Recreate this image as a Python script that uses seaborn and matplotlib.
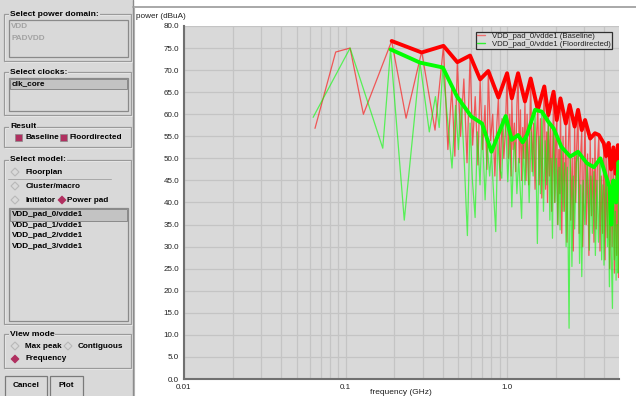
#!/usr/bin/env python
# Power spectrum viewer screenshot: control panel on the left, log-frequency plot on the right

import numpy as np
import pandas as pd
import matplotlib
matplotlib.use('Agg')
import matplotlib.pyplot as plt
import seaborn as sns
from matplotlib.patches import Rectangle, Polygon
from matplotlib.lines import Line2D
from matplotlib.ticker import MultipleLocator, LogLocator, FuncFormatter, NullFormatter

W, H = 636, 396
PANEL = '#d9d9d9'
MAROON = '#b03060'

# ---- data ----
red_thin_freq = [0.0647, 0.0869, 0.1067, 0.129, 0.193, 0.237, 0.296, 0.358, 0.404,
                 0.43, 0.455, 0.475, 0.492, 0.515, 0.54, 0.565, 0.59, 0.612, 0.635, 0.66, 0.681,
                 0.705, 0.73, 0.75, 0.765, 0.79, 0.815, 0.84, 0.865, 0.884, 0.905, 0.93, 0.955, 0.975,
                 1.00, 1.02, 1.04, 1.06, 1.07, 1.09, 1.11, 1.13, 1.15, 1.17, 1.19, 1.21, 1.23, 1.25, 1.27,
                 1.29, 1.31, 1.33, 1.36, 1.40, 1.43, 1.46, 1.49, 1.52, 1.55, 1.58, 1.61, 1.64, 1.67, 1.70,
                 1.73, 1.76, 1.78, 1.80, 1.83, 1.86, 1.89, 1.92, 1.94, 1.97, 2.00, 2.03, 2.06, 2.09, 2.12,
                 2.14, 2.18, 2.22, 2.26, 2.31, 2.35, 2.39, 2.44, 2.48, 2.53, 2.57, 2.62, 2.66, 2.70, 2.75,
                 2.79, 2.84, 2.90, 2.94, 2.99, 3.04, 3.09, 3.15, 3.21, 3.27, 3.33, 3.39, 3.45, 3.50, 3.56,
                 3.62, 3.70, 3.76, 3.83, 3.90, 3.97, 4.04, 4.10, 4.17, 4.25, 4.32, 4.40, 4.47, 4.55, 4.62,
                 4.70, 4.77, 4.85, 4.90, 4.93]
red_thin_db = [56.8, 74.1, 75.0, 60.0, 76.6, 59.1, 74.2, 56.4, 75.5,
               52.0, 66.0, 50.5, 71.8, 55.0, 68.0, 49.0, 73.3, 53.0, 64.0, 48.5, 67.9,
               52.0, 62.0, 47.5, 69.8, 54.0, 60.0, 46.0, 58.0, 63.8, 45.0, 59.0, 50.0, 56.0,
               69.3, 50, 60, 46, 63.6, 52, 58, 47, 62, 69.3, 49, 61, 45, 57, 50,
               62.9, 45, 60, 44, 68.1, 47, 58, 43, 55, 61.0, 44, 59, 41, 57, 66.3,
               43, 56, 40, 59.8, 46, 58, 38, 55, 65.1, 40, 54, 58.7, 35, 52, 42,
               63.6, 33, 55, 38, 57.9, 31, 52, 62.1, 36, 50, 29, 57.2, 40, 53, 61.0,
               33, 49, 56.4, 30, 47, 58.7, 35, 51, 28, 54.5, 37, 50, 31, 55.7, 34,
               48, 55.3, 29, 46, 33, 53.4, 27, 50.5, 32, 53.5, 25, 47.5, 30, 52.5, 24,
               46.5, 28, 53.0, 23, 50.0]

green_thin_freq = [0.063, 0.1067, 0.170, 0.190, 0.231, 0.289, 0.330, 0.360, 0.380, 0.400,
                   0.456, 0.48, 0.50, 0.52, 0.545, 0.568, 0.59, 0.61, 0.634, 0.655,
                   0.68, 0.70, 0.731, 0.755, 0.78, 0.80, 0.825, 0.851, 0.875, 0.90, 0.927, 0.95, 0.98,
                   1.01, 1.04, 1.07, 1.10, 1.12, 1.15, 1.18, 1.23, 1.26, 1.29,
                   1.33, 1.37, 1.41, 1.45, 1.49, 1.54, 1.58, 1.61, 1.64, 1.68,
                   1.72, 1.76, 1.80, 1.84, 1.87, 1.91, 1.94, 1.98, 2.02, 2.06,
                   2.10, 2.13, 2.17, 2.22, 2.27, 2.32, 2.36, 2.42, 2.46, 2.52,
                   2.57, 2.62, 2.68, 2.75, 2.81, 2.86, 2.90, 2.96, 3.03, 3.12,
                   3.18, 3.23, 3.30, 3.37, 3.45, 3.52, 3.60, 3.68, 3.78, 3.85,
                   3.92, 3.98, 4.05, 4.10, 4.18, 4.24, 4.30, 4.35, 4.42, 4.49,
                   4.55, 4.62, 4.68, 4.73, 4.80, 4.86, 4.90, 4.93]
green_thin_db = [59.3, 75.0, 52.3, 74.7, 36.0, 71.7, 56.0, 64.0, 57.0, 70.6,
                 47.8, 62.0, 52.0, 63.5, 48.0, 32.5, 58.0, 45.0, 36.6, 56.0,
                 44.0, 57.9, 40.6, 53.0, 46.0, 51.5, 42.0, 33.4, 54.0, 48.0, 45.5, 57.0, 59.6,
                 44.7, 55, 39.0, 52, 53.6, 42, 50, 36.4, 53, 44,
                 55.4, 40, 56, 46, 61.0, 30.7, 55, 42, 60.6, 38,
                 54, 44, 58.3, 36, 50, 31.9, 56.8, 40, 50, 35,
                 48, 33.8, 52.6, 38, 49, 30, 48, 11.5, 50.4, 25.5,
                 46, 34, 49, 51.5, 26.2, 44, 23.2, 45, 35, 48.9,
                 44, 29.2, 46, 33, 47, 28, 45, 31, 50.0, 27,
                 44, 25.8, 42, 45.9, 30, 40, 20.9, 43.6, 28, 16.0,
                 45, 27, 38, 22.4, 35, 24, 49.2, 40]

red_env_freq = [0.193, 0.296, 0.404, 0.492, 0.590, 0.681, 0.765, 0.884, 1.00, 1.07,
                1.17, 1.29, 1.40, 1.55, 1.70, 1.80, 1.94, 2.03, 2.14, 2.31,
                2.44, 2.62, 2.75, 2.90, 3.04, 3.27, 3.50, 3.70, 3.97, 4.10,
                4.25, 4.40, 4.55, 4.70, 4.85, 4.93]
red_env_db = [76.6, 74.0, 75.5, 71.8, 73.3, 67.9, 69.8, 63.8, 69.3, 63.6,
              69.3, 62.9, 68.1, 61.0, 66.3, 59.8, 65.1, 58.7, 63.6, 57.9,
              62.1, 57.2, 61.0, 56.4, 58.7, 54.5, 55.7, 55.3, 53.4, 50.5,
              53.5, 47.5, 52.5, 46.5, 53.0, 50.0]

green_env_freq = [0.19, 0.289, 0.40, 0.49, 0.60, 0.70, 0.80, 0.98, 1.07, 1.17,
                  1.25, 1.33, 1.49, 1.64, 1.80, 1.94, 2.17, 2.46, 2.75, 3.12,
                  3.45, 3.78, 4.10, 4.30, 4.42, 4.55, 4.73, 4.90, 4.93]
green_env_db = [74.7, 71.7, 70.6, 64.0, 59.5, 57.9, 51.5, 59.6, 54.2, 55.3,
                53.6, 55.4, 61.0, 60.6, 58.3, 56.8, 52.6, 50.4, 51.5, 48.9,
                48.0, 50.0, 45.9, 43.6, 35.0, 45.0, 40.0, 49.2, 47.0]

series_labels = ['VDD_pad_0/vdde1 (Baseline)', 'VDD_pad_0/vdde1 (Floordirected)']
domains = ['VDD', 'PADVDD']
clocks = ['clk_core']
pads = ['VDD_pad_0/vdde1', 'VDD_pad_1/vdde1', 'VDD_pad_2/vdde1', 'VDD_pad_3/vdde1']
y_ticks = [0, 5, 10, 15, 20, 25, 30, 35, 40, 45, 50, 55, 60, 65, 70, 75, 80]
x_tick_names = {0.01: '0.01', 0.1: '0.1', 1.0: '1.0'}

sns.set_style('white')
plt.rcParams['font.family'] = ['Liberation Sans', 'DejaVu Sans']

fig = plt.figure(figsize=(W / 100, H / 100), dpi=100)
fig.patch.set_facecolor('white')


# helpers working in screen pixels (origin top-left)
def fx(px):
    return px / W


def fy(py):
    return 1 - py / H


def rect(x0, y0, x1, y1, fc='none', ec='none', lw=1.0, z=1):
    fig.patches.append(Rectangle((fx(x0), fy(y1)), (x1 - x0) / W, (y1 - y0) / H,
                                 transform=fig.transFigure, facecolor=fc, edgecolor=ec,
                                 linewidth=lw, zorder=z))


def hline(x0, x1, y, color, lw=1.0):
    fig.add_artist(Line2D([fx(x0), fx(x1)], [fy(y), fy(y)], color=color, lw=lw,
                          transform=fig.transFigure))


def vline(x, y0, y1, color, lw=1.0):
    fig.add_artist(Line2D([fx(x), fx(x)], [fy(y0), fy(y1)], color=color, lw=lw,
                          transform=fig.transFigure))


def txt(x, y, s, size=5.9, weight='bold', color='#000000', ha='left', bg=None):
    kw = {}
    if bg is not None:
        kw['bbox'] = dict(facecolor=bg, edgecolor='none', pad=0.6)
    fig.text(fx(x), fy(y), s, fontsize=size, fontweight=weight, color=color,
             ha=ha, va='center', zorder=5, **kw)


def frame(x0, y0, x1, y1, title):
    rect(x0, y0, x1, y1, ec='#9a9a9a', lw=0.9, z=2)
    rect(x0 + 1, y0 + 1, x1 + 1, y1 + 1, ec='#f4f4f4', lw=0.6, z=1)
    txt(x0 + 6, y0, title, size=6.1, bg=PANEL)


def listbox(x0, y0, x1, y1):
    rect(x0, y0, x1, y1, fc=PANEL, ec='#8a8a8a', lw=0.9, z=3)


def diamond(cx, cy, selected=False):
    r = 4.0
    pts = [(fx(cx - r), fy(cy)), (fx(cx), fy(cy - r)), (fx(cx + r), fy(cy)), (fx(cx), fy(cy + r))]
    if selected:
        fig.patches.append(Polygon(pts, closed=True, transform=fig.transFigure,
                                   facecolor=MAROON, edgecolor=MAROON, lw=0.6, zorder=4))
    else:
        fig.patches.append(Polygon(pts, closed=True, transform=fig.transFigure,
                                   facecolor=PANEL, edgecolor='#b8b8b8', lw=0.8, zorder=4))


def button(x0, y0, x1, y1, s):
    rect(x0, y0, x1, y1, fc=PANEL, ec='#7a7a7a', lw=0.9, z=3)
    hline(x0 + 1, x1 - 1, y0 + 1, '#f4f4f4', 0.6)
    txt((x0 + x1) / 2, (y0 + y1) / 2 - 1, s, ha='center')


# ---- left control panel ----
rect(0, 0, 133, H, fc=PANEL, z=0)
vline(132.5, 0, H, '#8a8a8a', 1.0)

frame(4, 14, 131, 61, 'Select power domain:')
listbox(9, 20, 128, 57)
for i, name in enumerate(domains):
    txt(11, 27 + i * 11, name, color='#a3a3a3')

frame(4, 72, 131, 115, 'Select clocks:')
listbox(9, 78, 128, 111)
rect(10, 79, 127, 89, fc='#c3c3c3', ec='#8a8a8a', lw=0.7, z=4)
txt(12, 84, clocks[0])

frame(4, 127, 131, 147, 'Result')
rect(15, 134, 22, 141, fc=MAROON, ec='#8a8a8a', lw=0.5, z=4)
txt(25, 137.5, 'Baseline')
rect(60, 134, 67, 141, fc=MAROON, ec='#8a8a8a', lw=0.5, z=4)
txt(70, 137.5, 'Floordirected')

frame(4, 160, 131, 324, 'Select model:')
diamond(15, 172)
txt(26, 172, 'Floorplan')
hline(8, 111, 179, '#a8a8a8', 0.7)
diamond(15, 186)
txt(26, 186, 'Cluster/macro')
diamond(15, 200)
txt(26, 200, 'Initiator')
diamond(62, 200, selected=True)
txt(67, 200, 'Power pad')
listbox(9, 208, 128, 321)
rect(10, 209, 127, 221, fc='#c3c3c3', ec='#8a8a8a', lw=0.7, z=4)
for i, name in enumerate(pads):
    txt(12, 215 + i * 10.5, name)

frame(4, 334, 131, 368, 'View mode')
diamond(15, 346)
txt(25, 346, 'Max peak')
diamond(68, 346)
txt(78, 346, 'Contiguous')
diamond(15, 359, selected=True)
txt(25, 359, 'Frequency')

button(5, 376, 47, 397, 'Cancel')
button(50, 376, 83, 397, 'Plot')

# ---- plot canvas ----
hline(133, W, 7, '#9a9a9a', 1.2)
vline(134, 7, H, '#b0b0b0', 0.8)

ax = fig.add_axes([fx(184), fy(379), (619 - 184) / W, (379 - 26) / H])
ax.set_facecolor(PANEL)

sns.lineplot(x=red_thin_freq, y=red_thin_db, ax=ax, color='#ff0000', lw=0.9, alpha=0.6,
             estimator=None, sort=False, legend=False)
sns.lineplot(x=green_thin_freq, y=green_thin_db, ax=ax, color='#00ff00', lw=0.9, alpha=0.6,
             estimator=None, sort=False, legend=False)
sns.lineplot(x=red_env_freq, y=red_env_db, ax=ax, color='#ff0000', lw=2.8,
             estimator=None, sort=False, legend=False)
sns.lineplot(x=green_env_freq, y=green_env_db, ax=ax, color='#00ff00', lw=2.8,
             estimator=None, sort=False, legend=False)

ax.set_xscale('log')
ax.set_xlim(0.01, 4.93)
ax.set_ylim(0, 80)
ax.set_yticks(y_ticks)
ax.yaxis.set_major_formatter(FuncFormatter(lambda v, p: f'{v:.1f}'))
ax.xaxis.set_major_locator(LogLocator(base=10))
ax.xaxis.set_minor_locator(LogLocator(base=10, subs=np.arange(2, 10)))
ax.xaxis.set_major_formatter(FuncFormatter(lambda v, p: x_tick_names.get(round(v, 3), '')))
ax.xaxis.set_minor_formatter(NullFormatter())
ax.grid(True, which='both', color='#c4c4c4', lw=0.9)
ax.set_axisbelow(True)
ax.tick_params(which='both', labelsize=5.8, length=2.5, width=0.8, color='#606060',
               labelcolor='#202020', pad=1)
ax.set_xlabel('')
ax.set_ylabel('')
for side in ['top', 'right']:
    ax.spines[side].set_visible(False)
for side in ['left', 'bottom']:
    ax.spines[side].set_color('#707070')
    ax.spines[side].set_linewidth(1.5)

fig.text(fx(136), fy(16), 'power (dBuA)', fontsize=5.9, ha='left', va='center', color='#202020')
fig.text(fx(401), fy(389.5), 'frequency (GHz)', fontsize=6.0, ha='center', va='top', color='#202020')

handles = [Line2D([], [], color='#f07070', lw=1), Line2D([], [], color='#30f030', lw=1)]
leg = ax.legend(handles, series_labels, loc='upper right',
                bbox_to_anchor=(fx(612.3), fy(31.5)), bbox_transform=fig.transFigure,
                borderaxespad=0, fontsize=5.6, frameon=True, fancybox=False,
                facecolor=PANEL, edgecolor='#303030', framealpha=1,
                borderpad=0.15, labelspacing=0.02, handlelength=1.1, handletextpad=0.9)
leg.get_frame().set_linewidth(0.9)
for t in leg.get_texts():
    t.set_color('#202020')

plt.savefig('out.png', dpi=100)
plt.close()
